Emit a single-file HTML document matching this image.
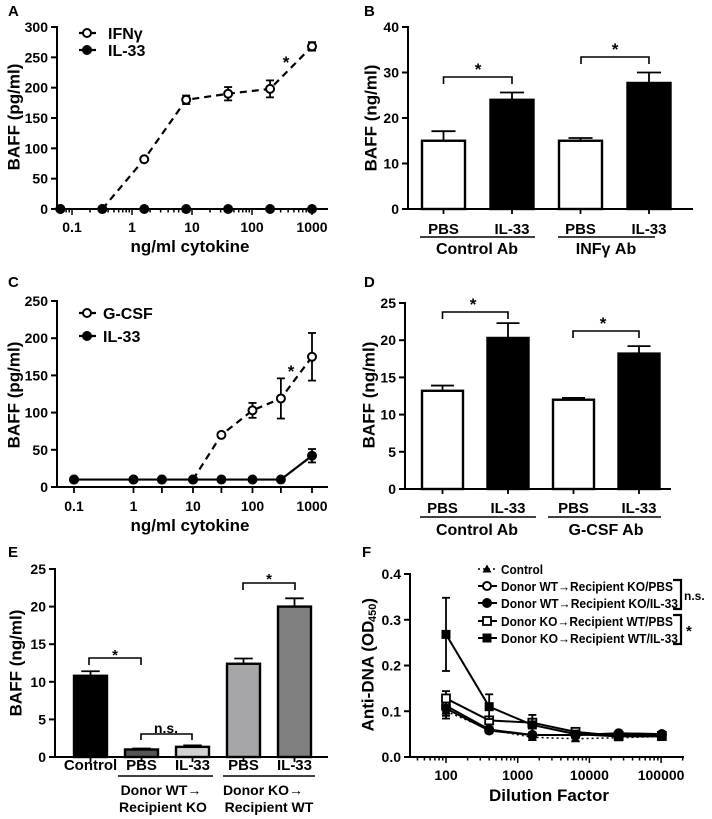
<!DOCTYPE html>
<html><head><meta charset="utf-8"><style>
html,body{margin:0;padding:0;background:#fff;}
svg{display:block;font-family:"Liberation Sans",Arial,sans-serif;font-weight:bold;}
</style></head><body>
<svg id="fig" width="712" height="819" viewBox="0 0 712 819" xmlns="http://www.w3.org/2000/svg"></svg>
<script>
// ---------- Data ----------
const aDose=[0.064,0.32,1.6,8,40,200,1000];
const aIfn=[0,0,82,180,190,198,268];
const aIfnErr=[0,0,3,7,11,14,7];
const aIl33=[0,0,0,0,0,0,0];
const aTicksY=[0,50,100,150,200,250,300];
const logTicks=[0.1,1,10,100,1000];

const bCats=["PBS","IL-33","PBS","IL-33"];
const bVals=[15,24,15,27.7];
const bErr=[2.1,1.6,0.6,2.3];
const bTicksY=[0,10,20,30,40];

const cDose=[0.1,1,3,10,30,100,300,1000];
const cGcsf=[10,10,10,10,70,103,119,175];
const cGcsfErr=[0,0,0,0,3,10,27,32];
const cIl33=[10,10,10,10,10,10,10,42];
const cIl33Err=[0,0,0,0,0,0,0,9];
const cTicksY=[0,50,100,150,200,250];

const dCats=["PBS","IL-33","PBS","IL-33"];
const dVals=[13.2,20.3,12,18.2];
const dErr=[0.7,2,0.25,1];
const dTicksY=[0,5,10,15,20,25];

const eCats=["Control","PBS","IL-33","PBS","IL-33"];
const eVals=[10.8,1.0,1.35,12.4,20.0];
const eErr=[0.6,0.12,0.2,0.7,1.1];
const eTicksY=[0,5,10,15,20,25];

const fDil=[100,400,1600,6400,25600,102400];
const fControl=[0.100,0.060,0.043,0.040,0.042,0.045];
const fWtPbs=[0.112,0.060,0.048,0.048,0.050,0.050];
const fWtIl33=[0.106,0.058,0.048,0.048,0.052,0.050];
const fKoPbs=[0.128,0.080,0.075,0.055,0.046,0.046];
const fKoIl33=[0.268,0.110,0.070,0.050,0.045,0.045];
const fKoIl33Err=[0.08,0.027,0.022,0.006,0.004,0.004];
const fOtherErr=[0.016,0.006,0.006,0.005,0.004,0.004];
const fTicksY=[0,0.1,0.2,0.3,0.4];
const fTicksX=[100,1000,10000,100000];

// ---------- helpers ----------
const NS="http://www.w3.org/2000/svg";
const root=document.getElementById('fig');
function mk(tag,attrs,parent){const e=document.createElementNS(NS,tag);for(const k in attrs)e.setAttribute(k,attrs[k]);(parent||root).appendChild(e);return e;}
function txt(s,x,y,size,anchor,parent){const t=mk('text',{x:x,y:y,'font-size':size,'text-anchor':anchor||'middle',fill:'#000'},parent);t.textContent=s;return t;}
function line(x1,y1,x2,y2,w,parent,dash){const a={x1:x1,y1:y1,x2:x2,y2:y2,stroke:'#000','stroke-width':w||2};if(dash)a['stroke-dasharray']=dash;return mk('line',a,parent);}

function yAxis(g,x,ytop,ybot,ticks,yf,fmt){
  line(x,ytop-1,x,ybot+1,2,g);
  ticks.forEach(v=>{line(x-6,yf(v),x,yf(v),2,g);const t=txt(fmt?fmt(v):String(v),x-9,yf(v)+5,14,'end',g);
    
    });
}
function logXAxis(g,x0,x1,y,xf,lo,hi,majors){
  line(x0,y,x1,y,2,g);
  for(let d=Math.floor(Math.log10(lo));d<=Math.ceil(Math.log10(hi));d++){
    for(let k=1;k<10;k++){const v=k*Math.pow(10,d);if(v<lo||v>hi)continue;const xx=xf(v);line(xx,y,xx,y+(k===1?6:3.5),1.5,g);}
  }
  majors.forEach(v=>{const t=txt(String(v),xf(v),y+23,14,'middle',g);
    
    });
}
function circle(g,x,y,filled){return mk('circle',{cx:x,cy:y,r:4,fill:filled?'#000':'#fff',stroke:'#000','stroke-width':2},g);}
function errBar(g,x,y1,y2,cap){line(x,y1,x,y2,1.8,g);line(x-cap,y2,x+cap,y2,1.8,g);}
function rotLabel(g,s,x,y,size){const t=mk('text',{x:0,y:0,'font-size':size,'text-anchor':'middle','dominant-baseline':'central',transform:`translate(${x},${y}) rotate(-90)`,fill:'#000'},g);t.textContent=s;return t;}
function bracket(g,xa,xb,y,leg){return mk('path',{d:`M${xa},${y+leg} V${y} H${xb} V${y+leg}`,fill:'none',stroke:'#000','stroke-width':1.6},g);}

// ================= Panel A =================
const gA=mk('g',{});


const xA=v=>72+(Math.log10(v)+1)*60;
const yA=v=>209-v*182/300;
txt('A',8,16,15,'start',gA);
yAxis(gA,57,27,209,aTicksY,yA);
logXAxis(gA,57,328,209,xA,0.056,1800,logTicks);
const aYT=rotLabel(gA,'BAFF (pg/ml)',14,117,17);


const aXT=txt('ng/ml cytokine',190,252,17,'middle',gA);


{
  let d='';for(let i=1;i<aDose.length;i++){d+=(i===1?'M':'L')+xA(aDose[i])+','+yA(aIfn[i]);}
  const p=mk('path',{d:d,fill:'none',stroke:'#000','stroke-width':2.2,'stroke-dasharray':'7,5'},gA);
  
  
  let d2='';aDose.forEach((v,i)=>{d2+=(i?'L':'M')+xA(v)+','+yA(aIl33[i]);});
  const p2=mk('path',{d:d2,fill:'none',stroke:'#000','stroke-width':2},gA);
  
  
  aDose.forEach((v,i)=>{if(aIfnErr[i]>0){errBar(gA,xA(v),yA(aIfn[i]),yA(aIfn[i]+aIfnErr[i]),4);errBar(gA,xA(v),yA(aIfn[i]),yA(aIfn[i]-aIfnErr[i]),4);}
    const c=circle(gA,xA(v),yA(aIfn[i]),false);
    
    });
  aDose.forEach((v,i)=>{const c=circle(gA,xA(v),yA(aIl33[i]),true);
    
    });
  txt('*',286,68,17,'middle',gA);
  line(79,33,96,33,2.2,gA);const l1=circle(gA,87,33,false);
  
  
  txt('IFNγ',108,39,16,'start',gA);
  line(79,50,96,50,2.2,gA);const l2=circle(gA,87,50,true);
  
  
  txt('IL-33',108,56,16,'start',gA);
}

// ================= Bar helper =================
function barPanel(g,opt){
  yAxis(g,opt.ax,opt.ytop,opt.y0,opt.ticks,opt.yf);
  line(opt.ax,opt.y0,opt.axEnd,opt.y0,2,g);
  opt.cats.forEach((c,i)=>{
    const cx=opt.c0+i*opt.step;
    const y=opt.yf(opt.vals[i]);
    errBar(g,cx,y,opt.yf(opt.vals[i]+opt.err[i]),opt.w*0.28);
    const r=mk('rect',{x:cx-opt.w/2,y:y,width:opt.w,height:opt.y0-y,fill:opt.fills[i],stroke:'#000','stroke-width':2.4},g);
    
    
    line(cx,opt.y0,cx,opt.y0+5,1.8,g);
    const t=txt(c,cx,opt.labY,15,'middle',g);
    
    
  });
}

// ================= Panel B =================
const gB=mk('g',{});


const yB=v=>209-v*182/40;
txt('B',364,16,15,'start',gB);
barPanel(gB,{ax:408,ytop:27,y0:209,axEnd:693,ticks:bTicksY,yf:yB,cats:bCats,vals:bVals,err:bErr,c0:443.5,step:68.5,w:43,fills:['#fff','#000','#fff','#000'],labY:234});
{const t=rotLabel(gB,'BAFF (ng/ml)',371,118,17);

}
bracket(gB,443.5,512,77,7);txt('*',478,75,17,'middle',gB);
bracket(gB,581,649,57,7);txt('*',615,55,17,'middle',gB);
line(420,237,535,237,1.5,gB);line(558,237,655,237,1.5,gB);
txt('Control Ab',477,254,16,'middle',gB);txt('INFγ Ab',606,254,16,'middle',gB);

// ================= Panel C =================
const gC=mk('g',{});


const xC=v=>74+(Math.log10(v)+1)*59.5;
const yC=v=>487-v*186/250;
txt('C',8,287,15,'start',gC);
yAxis(gC,57,301,487,cTicksY,yC);
line(57,487,328,487,2,gC);
logTicks.forEach(v=>{line(xC(v),487,xC(v),493,1.8,gC);const t=txt(String(v),xC(v),511,14,'middle',gC);
  
  });
[3,30,300].forEach(v=>line(xC(v),487,xC(v),493,1.8,gC));
{const t=rotLabel(gC,'BAFF (pg/ml)',14,395,17);

}
{const t=txt('ng/ml cytokine',190,531,17,'middle',gC);

}
{
  let d='';for(let i=3;i<cDose.length;i++){d+=(i===3?'M':'L')+xC(cDose[i])+','+yC(cGcsf[i]);}
  const p=mk('path',{d:d,fill:'none',stroke:'#000','stroke-width':2.2,'stroke-dasharray':'7,5'},gC);
  
  
  let d2='';cDose.forEach((v,i)=>{d2+=(i?'L':'M')+xC(v)+','+yC(cIl33[i]);});
  const p2=mk('path',{d:d2,fill:'none',stroke:'#000','stroke-width':2.2},gC);
  
  
  cDose.forEach((v,i)=>{if(cGcsfErr[i]>0){errBar(gC,xC(v),yC(cGcsf[i]),yC(cGcsf[i]+cGcsfErr[i]),4);errBar(gC,xC(v),yC(cGcsf[i]),yC(cGcsf[i]-cGcsfErr[i]),4);}
    const c=circle(gC,xC(v),yC(cGcsf[i]),false);
    
    });
  cDose.forEach((v,i)=>{if(cIl33Err[i]>0){errBar(gC,xC(v),yC(cIl33[i]),yC(cIl33[i]+cIl33Err[i]),4);errBar(gC,xC(v),yC(cIl33[i]),yC(cIl33[i]-cIl33Err[i]),4);}
    const c=circle(gC,xC(v),yC(cIl33[i]),true);
    
    });
  txt('*',291,377,17,'middle',gC);
  line(79,313,96,313,2.2,gC);const l1=circle(gC,87,313,false);
  
  
  txt('G-CSF',103,319,16,'start',gC);
  line(79,336,96,336,2.2,gC);const l2=circle(gC,87,336,true);
  
  
  txt('IL-33',103,342,16,'start',gC);
}

// ================= Panel D =================
const gD=mk('g',{});


const yD=v=>489-v*186/25;
txt('D',364,287,15,'start',gD);
barPanel(gD,{ax:405,ytop:303,y0:489,axEnd:671,ticks:dTicksY,yf:yD,cats:dCats,vals:dVals,err:dErr,c0:442.5,step:65.5,w:41,fills:['#fff','#000','#fff','#000'],labY:513});
{const t=rotLabel(gD,'BAFF (ng/ml)',369,395,17);

}
bracket(gD,442.5,508,312,7);txt('*',473,310,17,'middle',gD);
bracket(gD,573,639,331,7);txt('*',603,329,17,'middle',gD);
line(420,517,536,517,1.5,gD);line(548,517,661,517,1.5,gD);
txt('Control Ab',477,535,16,'middle',gD);txt('G-CSF Ab',606,535,16,'middle',gD);

// ================= Panel E =================
const gE=mk('g',{});


const yE=v=>757-v*188/25;
txt('E',8,557,15,'start',gE);
barPanel(gE,{ax:55,ytop:569,y0:757,axEnd:328,ticks:eTicksY,yf:yE,cats:eCats,vals:eVals,err:eErr,c0:90.5,step:51,w:33,fills:['#000','#555','#d2d2d2','#a6a6a8','#808080'],labY:770});
{const t=rotLabel(gE,'BAFF (ng/ml)',16,663,17);

}
bracket(gE,89,141,658,7);txt('*',115,660,15,'middle',gE);
bracket(gE,141,192,734,6);txt('n.s.',166,733,14,'middle',gE);
bracket(gE,243,295,583,7);txt('*',269,584,15,'middle',gE);
line(118,776,213,776,1.5,gE);line(223,776,315,776,1.5,gE);
txt('Donor WT→',161,795,14,'middle',gE);txt('Recipient KO',163,812,14,'middle',gE);
txt('Donor KO→',263,795,14,'middle',gE);txt('Recipient WT',269,812,14,'middle',gE);

// ================= Panel F =================
const gF=mk('g',{});


const xF=v=>446+(Math.log10(v)-2)*71.7;
const yF=v=>757-v*183/0.4;
txt('F',362,557,15,'start',gF);
yAxis(gF,410,574,757,fTicksY,yF,v=>v.toFixed(1));
logXAxis(gF,410,684,757,xF,32,200000,fTicksX);
{const t=rotLabel(gF,'Anti-DNA (OD',368,676,17);

}
{const t=mk('text',{x:0,y:0,'font-size':17,'text-anchor':'start','dominant-baseline':'central',transform:'translate(368,622) rotate(-90)'},gF);
t.innerHTML='<tspan font-size="11" dy="5">450</tspan><tspan dy="-5">)</tspan>';}
{const t=txt('Dilution Factor',549,801,17,'middle',gF);

}
function marker(g,type,x,y){
  if(type==='tri')return mk('path',{d:`M${x},${y-4.5} L${x+4.5},${y+3.5} L${x-4.5},${y+3.5}Z`,fill:'#000'},g);
  if(type==='oc')return circle(g,x,y,false);
  if(type==='fc')return circle(g,x,y,true);
  if(type==='os')return mk('rect',{x:x-4,y:y-4,width:8,height:8,fill:'#fff',stroke:'#000','stroke-width':1.8},g);
  return mk('rect',{x:x-4.5,y:y-4.5,width:9,height:9,fill:'#000'},g);
}
const fSeries=[[fControl,'tri','control','2,3',fOtherErr],[fWtPbs,'oc','wt-ko-pbs',null,fOtherErr],[fWtIl33,'fc','wt-ko-il33',null,fOtherErr],[fKoPbs,'os','ko-wt-pbs',null,fOtherErr],[fKoIl33,'fs','ko-wt-il33',null,fKoIl33Err]];
fSeries.forEach(s=>{
  const vals=s[0];let d='';
  fDil.forEach((v,i)=>{d+=(i?'L':'M')+xF(v)+','+yF(vals[i]);});
  const a={d:d,fill:'none',stroke:'#000','stroke-width':s[3]?1.5:2};if(s[3])a['stroke-dasharray']=s[3];
  const p=mk('path',a,gF);
  
  
  fDil.forEach((v,i)=>{errBar(gF,xF(v),yF(vals[i]),yF(vals[i]+s[4][i]),4);errBar(gF,xF(v),yF(vals[i]),yF(vals[i]-s[4][i]),4);
    const m=marker(gF,s[1],xF(v),yF(vals[i]));
    
    });
});
const fLegText=['Control','Donor WT→Recipient KO/PBS','Donor WT→Recipient KO/IL-33','Donor KO→Recipient WT/PBS','Donor KO→Recipient WT/IL-33'];
const fLegLen=[42,172,177,172,177];
const fLegY=[569,586,603,621,638];
fSeries.forEach((s,i)=>{
  line(478,fLegY[i],497,fLegY[i],s[3]?1.5:2,gF,s[3]);
  const m=marker(gF,s[1],487,fLegY[i]);
  
  
  const t=txt(fLegText[i],501,fLegY[i]+5,13,'start',gF);
  t.setAttribute('textLength',fLegLen[i]);
  t.setAttribute('lengthAdjust','spacingAndGlyphs');
});
mk('path',{d:'M673,580 H681 V609 H673',fill:'none',stroke:'#000','stroke-width':2.2},gF);
txt('n.s.',684,600,12,'start',gF);
mk('path',{d:'M673,615 H681 V644 H673',fill:'none',stroke:'#000','stroke-width':2.2},gF);
txt('*',686,636,15,'start',gF);
</script>
</body></html>
